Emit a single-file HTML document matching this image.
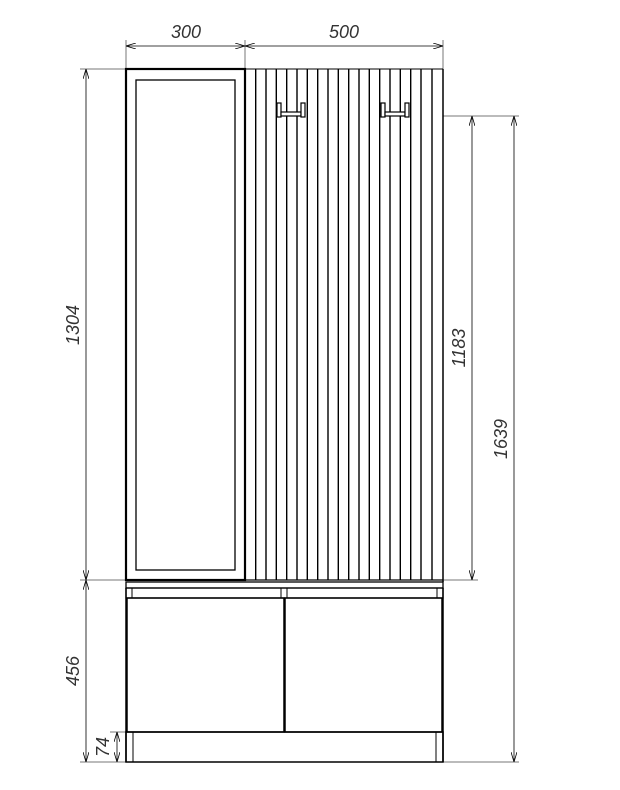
<!DOCTYPE html>
<html><head><meta charset="utf-8"><style>html,body{margin:0;padding:0;background:#fff}svg{display:block}</style></head>
<body>
<svg width="620" height="790" viewBox="0 0 620 790" xmlns="http://www.w3.org/2000/svg">
<defs>
<marker id="a" markerWidth="10" markerHeight="6" refX="10" refY="3" orient="auto-start-reverse" markerUnits="userSpaceOnUse"><path d="M0,0 L10,3 L0,6" fill="none" stroke="#000" stroke-width="0.8"/></marker>
</defs>
<g stroke="#777" stroke-width="1" fill="none">
<line x1="126" y1="40" x2="126" y2="69"/>
<line x1="245" y1="40" x2="245" y2="69"/>
<line x1="443" y1="40" x2="443" y2="69"/>
<line x1="80" y1="69" x2="126" y2="69"/>
<line x1="80" y1="580" x2="126" y2="580"/>
<line x1="443" y1="580" x2="478" y2="580"/>
<line x1="80" y1="762" x2="126" y2="762"/>
<line x1="110" y1="732" x2="126" y2="732"/>
<line x1="443" y1="116" x2="519" y2="116"/>
<line x1="443" y1="762" x2="519" y2="762"/>
</g>
<g stroke="#000" stroke-width="0.8" fill="none" marker-start="url(#a)" marker-end="url(#a)">
<line x1="126" y1="46" x2="245" y2="46"/>
<line x1="245" y1="46" x2="443" y2="46"/>
<line x1="86" y1="69" x2="86" y2="580"/>
<line x1="86" y1="580" x2="86" y2="762"/>
<line x1="117" y1="732" x2="117" y2="762"/>
<line x1="472" y1="116" x2="472" y2="580"/>
<line x1="514" y1="116" x2="514" y2="762"/>
</g>
<g font-family="Liberation Sans, sans-serif" font-style="italic" font-size="18" fill="#333" text-anchor="middle" textLength="0">
<text x="186" y="38">300</text>
<text x="344" y="38">500</text>
<text transform="translate(79,325) rotate(-90)">1304</text>
<text transform="translate(79,671) rotate(-90)">456</text>
<text transform="translate(109,747) rotate(-90)">74</text>
<text transform="translate(465,348) rotate(-90)">1183</text>
<text transform="translate(507,439) rotate(-90)">1639</text>
</g>
<g stroke="#000" fill="none">
<rect x="126" y="69" width="119" height="511" stroke-width="2.2"/>
<rect x="136" y="80" width="99" height="490" stroke-width="1.3"/>
<line x1="245" y1="69" x2="443" y2="69" stroke-width="1"/>
<line x1="443" y1="69" x2="443" y2="582" stroke-width="1.5"/>
<g stroke-width="1.4">
<line x1="255.7" y1="69" x2="255.7" y2="580"/><line x1="266" y1="69" x2="266" y2="580"/>
<line x1="276.3" y1="69" x2="276.3" y2="580"/><line x1="286.7" y1="69" x2="286.7" y2="580"/>
<line x1="297" y1="69" x2="297" y2="580"/><line x1="307.3" y1="69" x2="307.3" y2="580"/>
<line x1="317.7" y1="69" x2="317.7" y2="580"/><line x1="328" y1="69" x2="328" y2="580"/>
<line x1="338.3" y1="69" x2="338.3" y2="580"/><line x1="348.7" y1="69" x2="348.7" y2="580"/>
<line x1="359" y1="69" x2="359" y2="580"/><line x1="369.3" y1="69" x2="369.3" y2="580"/>
<line x1="379.7" y1="69" x2="379.7" y2="580"/><line x1="390" y1="69" x2="390" y2="580"/>
<line x1="400.3" y1="69" x2="400.3" y2="580"/><line x1="410.7" y1="69" x2="410.7" y2="580"/>
<line x1="421" y1="69" x2="421" y2="580"/><line x1="432" y1="69" x2="432" y2="580"/>
</g>
<g stroke-width="1.2" fill="#fff">
<rect x="277" y="103" width="4" height="14"/><rect x="281" y="112" width="20" height="4"/><rect x="301" y="103" width="4" height="14"/>
<rect x="381" y="103" width="4" height="14"/><rect x="385" y="112" width="20" height="4"/><rect x="405" y="103" width="4" height="14"/>
</g>
<line x1="245" y1="580" x2="443" y2="580" stroke-width="1.2"/>
<rect x="126" y="582" width="317" height="6" stroke-width="1.3"/>
<line x1="126" y1="588" x2="126" y2="762" stroke-width="1.5"/>
<line x1="443" y1="588" x2="443" y2="762" stroke-width="1.5"/>
<rect x="126" y="588" width="317" height="10" stroke-width="1.2"/>
<line x1="132" y1="588" x2="132" y2="598" stroke-width="1"/>
<line x1="281" y1="588" x2="281" y2="598" stroke-width="1"/>
<line x1="287" y1="588" x2="287" y2="598" stroke-width="1"/>
<line x1="437" y1="588" x2="437" y2="598" stroke-width="1"/>
<rect x="127" y="598" width="157" height="134" stroke-width="1.5"/>
<rect x="285" y="598" width="157" height="134" stroke-width="1.5"/>
<rect x="126" y="732" width="317" height="30" stroke-width="1.5"/>
<line x1="133" y1="732" x2="133" y2="762" stroke-width="1"/>
<line x1="436" y1="732" x2="436" y2="762" stroke-width="1"/>
</g>
</svg>
</body></html>
